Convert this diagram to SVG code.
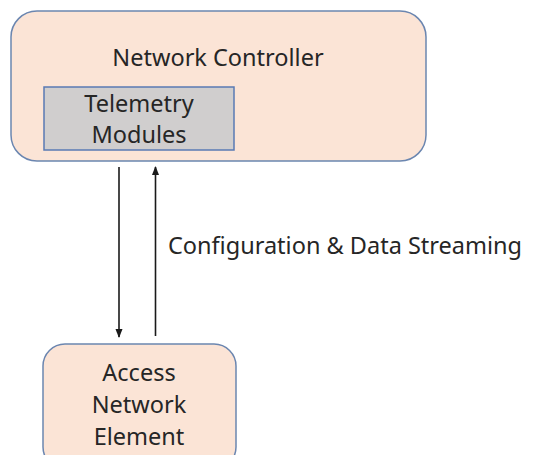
<svg xmlns="http://www.w3.org/2000/svg" width="542" height="455" viewBox="0 0 542 455">
  <style>
    .box { fill: #fbe4d6; stroke: #6b86b0; stroke-width: 1.5; }
    .inner { fill: #d0cece; stroke: #5a7ab4; stroke-width: 1.5; }
    .label { font-family: "Noto Sans", "Liberation Sans", sans-serif; font-size: 23.5px; fill: #262626; text-anchor: middle; }
    .edge { stroke: #1a1a1a; stroke-width: 1.6; fill: none; }
  </style>
  <defs>
    <marker id="arrow" viewBox="0 0 10 10" refX="9" refY="5" markerWidth="5.5" markerHeight="5.5" orient="auto">
      <path d="M0,1 L10,5 L0,9 z" fill="#1a1a1a"/>
    </marker>
  </defs>
  <rect width="542" height="455" fill="#ffffff"/>

  <g id="network-controller">
    <rect class="box" x="11" y="11" width="415" height="150" rx="26" ry="26"/>
    <text class="label" x="218" y="66">Network Controller</text>
  </g>

  <g id="telemetry-modules">
    <rect class="inner" x="44" y="87" width="190" height="63"/>
    <text class="label" x="139" y="112">Telemetry</text>
    <text class="label" x="139" y="143">Modules</text>
  </g>

  <g id="access-network-element">
    <rect class="box" x="43" y="344" width="193" height="125" rx="22" ry="22"/>
    <text class="label" x="139" y="381">Access</text>
    <text class="label" x="139" y="413">Network</text>
    <text class="label" x="139" y="445">Element</text>
  </g>

  <g id="connectors">
    <line class="edge" x1="119" y1="167" x2="119" y2="337" marker-end="url(#arrow)"/>
    <line class="edge" x1="155.5" y1="336" x2="155.5" y2="167" marker-end="url(#arrow)"/>
    <text class="label" x="345" y="254">Configuration &amp; Data Streaming</text>
  </g>
</svg>
